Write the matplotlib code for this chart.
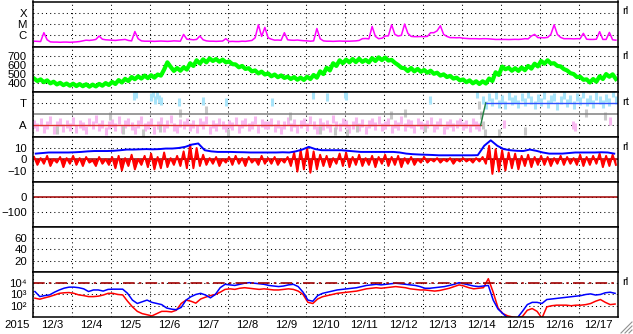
import numpy as np
import matplotlib
matplotlib.use("Agg")
import matplotlib.pyplot as plt
from matplotlib.lines import Line2D
from matplotlib.ticker import NullLocator

plt.rcParams['font.family'] = ['Liberation Sans', 'DejaVu Sans']

# ---- data (time in days from 2015-12-03 00UT) ----
day_labels = ["12/%d" % d for d in range(3, 18)]

# GOES X-ray flux, 2-hourly, in units of 1e-7 W/m2
xray = [
    3.0, 2.9, 2.8, 17, 4, 2.6, 2.5, 2.5, 2.4, 2.5, 2.5, 2.4,
    2.5, 2.6, 2.8, 3.2, 3.7, 3.5, 3.8, 4.3, 8.6, 4.5, 4.0, 3.8,
    3.6, 3.5, 3.8, 4.0, 4.3, 3.5, 3.2, 21.6, 5, 3.2, 3.0, 3.0,
    3.0, 2.9, 3.0, 3.1, 3.0, 2.9, 3.0, 3.2, 3.1, 3.0, 12, 4.5,
    4.3, 4.0, 4.3, 8.6, 4.0, 3.2, 3.0, 3.0, 2.9, 3.0, 3.1, 5.0,
    2.8, 2.9, 2.8, 2.8, 3.0, 2.9, 3.2, 3.5, 6, 86, 8, 50,
    6, 4.5, 3.7, 3.8, 3.6, 17, 4.0, 3.7, 3.6, 3.8, 3.5, 3.3,
    3.2, 3.0, 3.2, 40, 5, 3.2, 3.0, 3.0, 2.9, 3.0, 3.1, 3.0,
    3.0, 3.0, 3.1, 3.2, 3.5, 5.0, 5.2, 4.8, 61, 8, 5.0, 5.5,
    8.6, 9, 86, 12, 8.6, 10, 100, 15, 8, 7.6, 7.6, 7.8,
    7.6, 8, 17, 17, 25, 70, 12, 8, 6.2, 6.2, 6.0, 6.2,
    5.5, 5.2, 5.0, 5.0, 5.0, 4.8, 5.0, 5.0, 4.8, 4.5, 4.3, 4.3,
    4.3, 4.3, 4.2, 4.3, 4.4, 4.3, 4.5, 5, 4.8, 8.6, 12, 6.2,
    6.2, 6.0, 6.5, 12, 86, 12, 6.5, 5.0, 5.0, 5.0, 4.8, 5.0,
    5.0, 15, 4.5, 4.3, 4.3, 4.5, 21, 4.3, 4.3, 18, 4.0, 3.7,
]

# solar wind speed, 2-hourly, km/s
speed = [
    445, 418, 436, 405, 425, 392, 410, 380, 398, 372, 390, 366,
    388, 362, 384, 360, 382, 355, 378, 358, 386, 366, 395, 374,
    408, 385, 428, 402, 442, 418, 462, 438, 470, 445, 478, 450,
    482, 455, 490, 478, 545, 625, 575, 530, 562, 532, 570, 545,
    615, 585, 648, 612, 658, 625, 668, 640, 662, 632, 655, 625,
    635, 605, 602, 570, 585, 552, 560, 525, 535, 502, 522, 490,
    502, 470, 490, 460, 480, 452, 466, 440, 462, 432, 456, 430,
    465, 440, 485, 455, 525, 495, 565, 535, 615, 585, 648, 615,
    655, 625, 662, 628, 665, 630, 652, 625, 672, 640, 680, 650,
    678, 645, 652, 620, 596, 565, 560, 528, 562, 525, 552, 520,
    540, 510, 532, 498, 510, 478, 492, 462, 475, 445, 455, 425,
    435, 405, 425, 392, 415, 385, 415, 390, 445, 418, 515, 485,
    578, 548, 565, 532, 560, 530, 568, 538, 585, 555, 610, 580,
    640, 610, 648, 612, 615, 585, 580, 550, 535, 505, 495, 462,
    465, 432, 436, 402, 440, 410, 470, 440, 495, 465, 492, 440,
]

# IMF phi angle (deg): away-sector points, then toward-sector points (2-hourly)
phi_away = [
    150, 120, 165, 105, 140, 175, 95, 135, 160, 115, 145, 125,
    170, 110, 150, 130, 100, 160, 140, 185, 120, 150, 90, 135,
    155, 125, 175, 110, 145, 165, 130, 100, 150, 180, 120, 140,
    160, 95, 140, 170, 115, 150, 185, 125, 105, 155, 135, 165,
    120, 150, 110, 160, 135, 175, 100, 145, 125, 165, 140, 115,
    150, 130, 170, 105, 145, 160, 120, 140, 180, 110, 155, 135,
    140, 165, 115, 150, 95, 135, 170, 125, 155, 105, 145, 160,
    120, 175, 140, 100, 160, 130, 150, 115, 185, 140, 125, 165,
    150, 110, 135, 170, 125, 155, 100, 145, 160, 130, 175, 120,
    140, 165, 105, 150, 130, 180, 120, 155, 145, 110, 160, 135,
    125, 150, 170, 115, 140, 160, 100, 135, 155, 120, 145, 165,
    130, 150, 115, 160, 140, 125,
]
phi_toward = [
    340, 300, 360, 320, 380, 310, 350, 295, 370, 330, 345, 305,
    365, 320, 390, 335, 300, 355, 325, 375, 310, 345, 360, 290,
    335, 380, 315, 350, 300, 365, 330, 385, 320, 345, 305, 370,
    340, 310, 355, 325, 395, 335,
]
lb_t = [2.6, 2.65, 3.05, 3.1, 3.15, 3.2, 3.25, 3.3, 3.75, 4.38, 4.95,
        6.15, 7.2, 7.55, 8.0, 8.05, 10.2, 11.4]
lb_phi = [370, 385, 360, 395, 340, 380, 350, 330, 320, 330, 320,
          325, 380, 360, 385, 370, 340, 390]
pk_t = [12.1, 13.85, 13.9, 14.8]
pk_phi = [150, 140, 120, 170]
gr_t = [0.63, 1.99, 2.32, 2.84, 3.27, 3.79, 4.45, 5.02, 6.61, 7.38, 7.76, 8.07,
        8.33, 9.18, 9.56, 10.07, 11.44, 11.49, 11.54, 11.6, 11.95, 12.64, 14.18, 14.69]
gr_phi = [101, 207, 101, 77, 117, 237, 261, 77, 213, 101, 87, 77,
          117, 221, 237, 117, 301, 221, 141, 77, 77, 87, 237, 213]
sector_t = [0, 11.49, 11.62, 15]
sector_phi = [135, 135, 315, 315]

# IMF Bz (2-hourly) and Bt (4-hourly), nT
bz = [
    2, -5, 1, -4, 3, -6, 0, -3, 2, -7, 1, -4,
    3, -5, 1, -6, 2, -3, -1, -6, 2, -4, 0, -5,
    2, -8, 3, -10, 1, -6, 4, -9, 0, -5, 3, -7,
    5, -9, 2, -8, 6, -7, 1, -5, 3, -6, 7, -8,
    13, -8, 10, -6, 4, -5, 1, -4, 2, -6, 0, -3,
    2, -5, 3, -4, 1, -6, 2, -3, 0, -5, 3, -4,
    1, -4, 2, -5, 0, -3, 2, -6, 6, -11, 8, -9,
    10, -12, 7, -9, 4, -6, 3, -7, 1, -4, 5, -6,
    6, -7, 2, -5, 4, -6, 1, -5, 3, -7, 2, -4,
    4, -6, 2, -5, 3, -7, 1, -4, 2, -5, 0, -3,
    2, -3, 0, -2, 1, -3, 0, -2, 1, -4, 0, -2,
    1, -2, 0, -3, 1, -2, 2, -4, 12, -13, 9, -11,
    8, -10, 6, -8, 5, -9, 3, -6, 4, -7, 2, -5,
    3, -5, 2, -6, 1, -4, 3, -5, 2, -4, 1, -5,
    4, -6, 2, -5, 3, -4, 5, -7, 3, -6, 4, -5,
]
bt = [
    5, 5.5, 6, 6, 6, 6,
    6.2, 6.5, 7, 7.3, 7.3, 7.3,
    7.5, 8, 8.6, 8.6, 8.8, 9,
    8.8, 9, 9.5, 9.5, 10, 11,
    13, 14, 8, 7, 6.5, 6.5,
    6.5, 6.3, 6.2, 6, 6, 6,
    6, 6, 6.2, 6, 7, 8.6,
    11, 9, 8, 8, 8, 8,
    7.5, 7, 6.5, 6.5, 6.5, 6.5,
    6.5, 6.5, 6, 5, 4.5, 4.2,
    4, 3.8, 3.5, 3.5, 3.5, 3.5,
    3.5, 3.5, 3.6, 12, 16.8, 12,
    9, 8, 7.5, 7.3, 8.6, 7.5,
    6, 5, 5, 5, 5.5, 6,
    6, 6, 6, 6.2, 6, 5,
]

# >2MeV electron flux, 3-hourly, log10 values (two satellites)
elec_blue = [
    3.26, 2.81, 2.9, 2.96, 3.2, 3.4, 3.56, 3.65,
    3.65, 3.6, 3.5, 3.26, 3.4, 3.4, 3.3, 3.45,
    3.47, 3.47, 3.47, 3.1, 2.5, 2.2, 2.35, 2.5,
    2.3, 2.2, 2.1, 1.8, 1.7, 1.65, 1.85, 2.5,
    2.8, 3.0, 3.1, 2.95, 2.7, 3.0, 3.6, 3.9,
    3.85, 3.8, 3.9, 4.0, 4.05, 4.0, 3.95, 3.9,
    3.8, 3.75, 3.7, 3.75, 3.85, 3.9, 3.7, 3.2,
    2.5, 2.4, 2.9, 3.1, 3.2, 3.3, 3.4, 3.45,
    3.5, 3.55, 3.6, 3.7, 3.8, 3.85, 3.9, 3.85,
    3.9, 3.95, 4.0, 3.95, 3.9, 3.85, 3.8, 3.7,
    3.55, 3.55, 3.6, 3.65, 3.7, 3.8, 3.9, 4.05,
    3.95, 3.85, 3.75, 3.7, 3.75, 3.8, 2.5, 1.7,
    1.3, 0.9, 0.9, 0.95, 1.5, 2.1, 2.3, 2.3,
    2.2, 2.55, 2.6, 2.65, 2.7, 2.75, 2.8, 2.85,
    2.9, 3.0, 3.05, 2.95, 3.0, 3.15, 3.2, 3.1,
]
elec_red = [
    2.67, 2.58, 2.7, 2.81, 2.95, 3.1, 3.15, 3.17,
    3.1, 2.96, 2.9, 2.81, 2.81, 2.85, 2.95, 3.1,
    3.1, 3.0, 2.96, 2.4, 1.9, 1.5, 1.3, 1.2,
    1.1, 1.3, 1.5, 1.5, 1.45, 1.6, 2.2, 2.5,
    2.4, 2.23, 2.6, 2.76, 2.9, 3.0, 3.2, 3.45,
    3.5, 3.45, 3.55, 3.6, 3.55, 3.5, 3.45, 3.5,
    3.45, 3.4, 3.4, 3.45, 3.5, 3.45, 3.3, 3.0,
    2.3, 2.2, 2.6, 2.8, 2.9, 3.0, 3.1, 3.15,
    3.2, 3.25, 3.3, 3.4, 3.5, 3.55, 3.6, 3.55,
    3.6, 3.65, 3.7, 3.65, 3.6, 3.5, 3.45, 3.4,
    3.4, 3.35, 3.3, 3.35, 3.45, 3.55, 3.7, 3.85,
    3.75, 3.6, 3.5, 3.55, 3.6, 4.4, 3.2, 1.8,
    1.3, 1.1, 1.0, 0.95, 1.05, 1.6, 1.75, 1.5,
    0.9, 1.9, 2.0, 2.05, 2.05, 2.05, 2.0, 2.05,
    2.05, 2.1, 2.2, 2.4, 2.55, 2.3, 2.1, 2.15,
]

# ---- layout ----
W, H = 633, 334
fig = plt.figure(figsize=(W / 100, H / 100), dpi=100)
x0, x1 = 32.5, 617.5
ytop, ybot = 1.5, 317.0
ph = (ybot - ytop) / 7
FS = 8.2
DOT = dict(color="black", linestyle=(0, (1, 3)), linewidth=0.75)

axes = []
for k in range(7):
    ax = fig.add_axes([x0 / W, 1 - (ytop + (k + 1) * ph) / H, (x1 - x0) / W, ph / H])
    ax.set_xlim(0, 15)
    ax.set_xticks(range(16))
    ax.set_xticklabels([])
    ax.tick_params(which="both", length=0, labelsize=FS, pad=4)
    ax.grid(True, which="major", **DOT)
    ax.set_axisbelow(True)
    for s in ax.spines.values():
        s.set_linewidth(1.1)
    axes.append(ax)

t2 = (np.arange(len(xray)) + 0.5) / 12
t4 = (np.arange(len(bt)) + 0.5) / 6
t3 = (np.arange(len(elec_blue)) + 0.5) / 8

# 1: X-ray
ax = axes[0]
ax.semilogy(t2, np.array(xray) * 1e-7, color="#ff00ff", lw=1.1)
ax.set_ylim(1e-7, 1e-3)
ax.yaxis.set_minor_locator(NullLocator())
ax.set_yticks([1e-4, 1e-5, 1e-6])
ax.set_yticklabels(["X", "M", "C"])

# 2: solar wind speed
ax = axes[1]
ax.plot(t2, speed, color="#00ff00", lw=3.0)
ax.set_ylim(300, 800)
ax.set_yticks([400, 500, 600, 700])

# 3: IMF sector
ax = axes[2]
MK = dict(ls="none", marker="|", ms=6, mew=2.2)
n_a = len(phi_away)
ax.plot(t2[:n_a], phi_away, color="#f8b8f0", **MK)
ax.plot(t2[n_a:], phi_toward, color="#a8e4fa", **MK)
ax.plot(lb_t, lb_phi, color="#a8e4fa", **MK)
ax.plot(pk_t, pk_phi, color="#f8b8f0", **MK)
ax.plot(gr_t, gr_phi, color="#c8c8c8", **MK)
ax.axhline(225, color="#808080", lw=1.1)
ax.plot(sector_t[:2], sector_phi[:2], color="#e03030", lw=1.0)
ax.plot(sector_t[1:3], sector_phi[1:3], color="#208040", lw=1.0)
ax.plot(sector_t[2:], sector_phi[2:], color="#3050ff", lw=1.0)
ax.set_ylim(45, 405)
ax.set_yticks([135, 315])
ax.set_yticklabels(["A", "T"])

# 4: IMF Bz / Bt
ax = axes[3]
ax.axhline(0, color="#a00000", lw=1.1)
ax.fill_between(t2, bz, 0, color="#ff0000", lw=0)
ax.plot(t2, bz, color="#ff0000", lw=1.4)
ax.plot(t4, bt, color="#0000ff", lw=1.4)
ax.set_ylim(-20, 20)
ax.set_yticks([-10, 0, 10])

# 5: Dst
ax = axes[4]
ax.axhline(0, color="#a00000", lw=1.1)
ax.set_ylim(-200, 100)
ax.set_yticks([0, -100])

# 6: empty index panel
ax = axes[5]
ax.set_ylim(0, 80)
ax.set_yticks([20, 40, 60])

# 7: electron flux
ax = axes[6]
ax.semilogy(t3, 10 ** np.array(elec_red), color="#ff0000", lw=1.1)
ax.semilogy(t3, 10 ** np.array(elec_blue), color="#0000ff", lw=1.1)
ax.axhline(1e4, color="#a00000", lw=1.2, linestyle=(0, (7, 2.5, 1.5, 2.5)))
ax.set_ylim(1e1, 1e5)
ax.yaxis.set_minor_locator(NullLocator())
ax.set_yticks([1e2, 1e3, 1e4])
ax.set_yticklabels(["10\u00b2", "10\u00b3", "10\u2074"], fontsize=FS)
ax.set_xticks(np.arange(15) + 0.5, minor=True)
ax.set_xticklabels(day_labels, minor=True)
ax.tick_params(axis="x", which="minor", length=0, pad=2, labelsize=FS)

fig.text(17 / W, 1 - 325 / H, "2015", ha="center", va="center", fontsize=FS)

# right-hand source tags
for k, tag in [(0, "rl"), (1, "rl"), (2, "rt"), (3, "rl"), (6, "rl")]:
    axes[k].text(1.008, 0.78, tag, transform=axes[k].transAxes,
                 ha="left", va="center", fontsize=8.2)

# resize grip in the corner
for d in (4, 8, 12):
    fig.add_artist(Line2D([(W - d) / W, (W - 1) / W], [1 / H, d / H],
                          color="#909090", lw=0.8))

fig.savefig("out.png", dpi=100)
